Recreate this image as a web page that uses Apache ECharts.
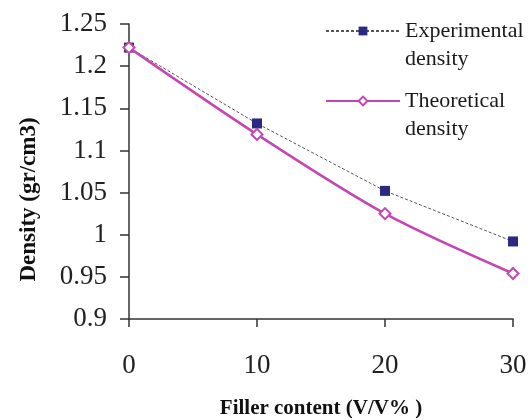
<!DOCTYPE html>
<html><head><meta charset="utf-8">
<script src="https://cdn.jsdelivr.net/npm/echarts@6/dist/echarts.min.js"></script>
<style>html,body{margin:0;padding:0;background:#fff;}#c{width:531px;height:420px;}</style>
</head><body><div id="c"></div>
<script>
var fillerContent = [0, 10, 20, 30];
var experimental = [1.222, 1.132, 1.052, 0.992];
var theoretical = [1.222, 1.119, 1.025, 0.954];
var yTicks = [0.9, 0.95, 1, 1.05, 1.1, 1.15, 1.2, 1.25];

var font = 'Liberation Serif';
var chart = echarts.init(document.getElementById('c'));
function pairs(xs, ys){ return xs.map(function(x,i){ return [x, ys[i]]; }); }
var legendText = {fontFamily: font, fontSize: 22, color: '#1a1a1a', lineHeight: 28};
function legendFmt(name){ return '\n' + name; }
chart.setOption({
  animation: false,
  backgroundColor: '#fff',
  grid: {left: 129, right: 18, top: 24, bottom: 101, containLabel: false, outerBoundsMode: 'none'},
  legend: [
    {data: ['Experimental\ndensity'], left: 325, top: -11, padding: 0, itemWidth: 74, itemHeight: 11, textStyle: legendText, formatter: legendFmt},
    {data: ['Theoretical\ndensity'], left: 325, top: 59, padding: 0, itemWidth: 74, itemHeight: 11, textStyle: legendText, formatter: legendFmt}
  ],
  xAxis: {
    type: 'value', min: 0, max: 30, interval: 10,
    name: 'Filler content (V/V% )', nameLocation: 'middle', nameGap: 79,
    nameTextStyle: {fontFamily: font, fontSize: 21, fontWeight: 'bold', color: '#111'},
    axisLine: {show: true, lineStyle: {color: '#333', width: 1.5}},
    axisTick: {show: true, inside: false, length: 8, lineStyle: {color: '#333', width: 1.5}},
    axisLabel: {fontFamily: font, fontSize: 27, color: '#222', margin: 33},
    splitLine: {show: false}
  },
  yAxis: {
    type: 'value', min: 0.9, max: 1.25, interval: 0.05,
    name: 'Density (gr/cm3)', nameLocation: 'middle', nameGap: 88, nameRotate: 90,
    nameTextStyle: {fontFamily: font, fontSize: 23, fontWeight: 'bold', color: '#111', padding: [0, 56, 0, 0]},
    axisLine: {show: true, onZero: false, lineStyle: {color: '#333', width: 1.5}},
    axisTick: {show: true, inside: false, length: 9, lineStyle: {color: '#333', width: 1.5}},
    axisLabel: {fontFamily: font, fontSize: 27, color: '#222', margin: 22,
      formatter: function(v){ var t = yTicks.find(function(k){return Math.abs(k-v)<1e-6;}); return t===undefined? '' : String(t); }},
    splitLine: {show: false}
  },
  series: [
    {name: 'Experimental\ndensity', type: 'line', data: pairs(fillerContent, experimental),
     symbol: 'rect', symbolSize: 10, itemStyle: {color: '#2A2A80'},
     lineStyle: {color: '#555', width: 1, type: [3, 2]}, z: 2},
    {name: 'Theoretical\ndensity', type: 'line', data: pairs(fillerContent, theoretical), smooth: 0.3,
     symbol: 'diamond', symbolSize: 11, itemStyle: {color: '#fff', borderColor: '#C545B3', borderWidth: 2},
     lineStyle: {color: '#C545B3', width: 2.5}, z: 3}
  ]
});
</script></body></html>
